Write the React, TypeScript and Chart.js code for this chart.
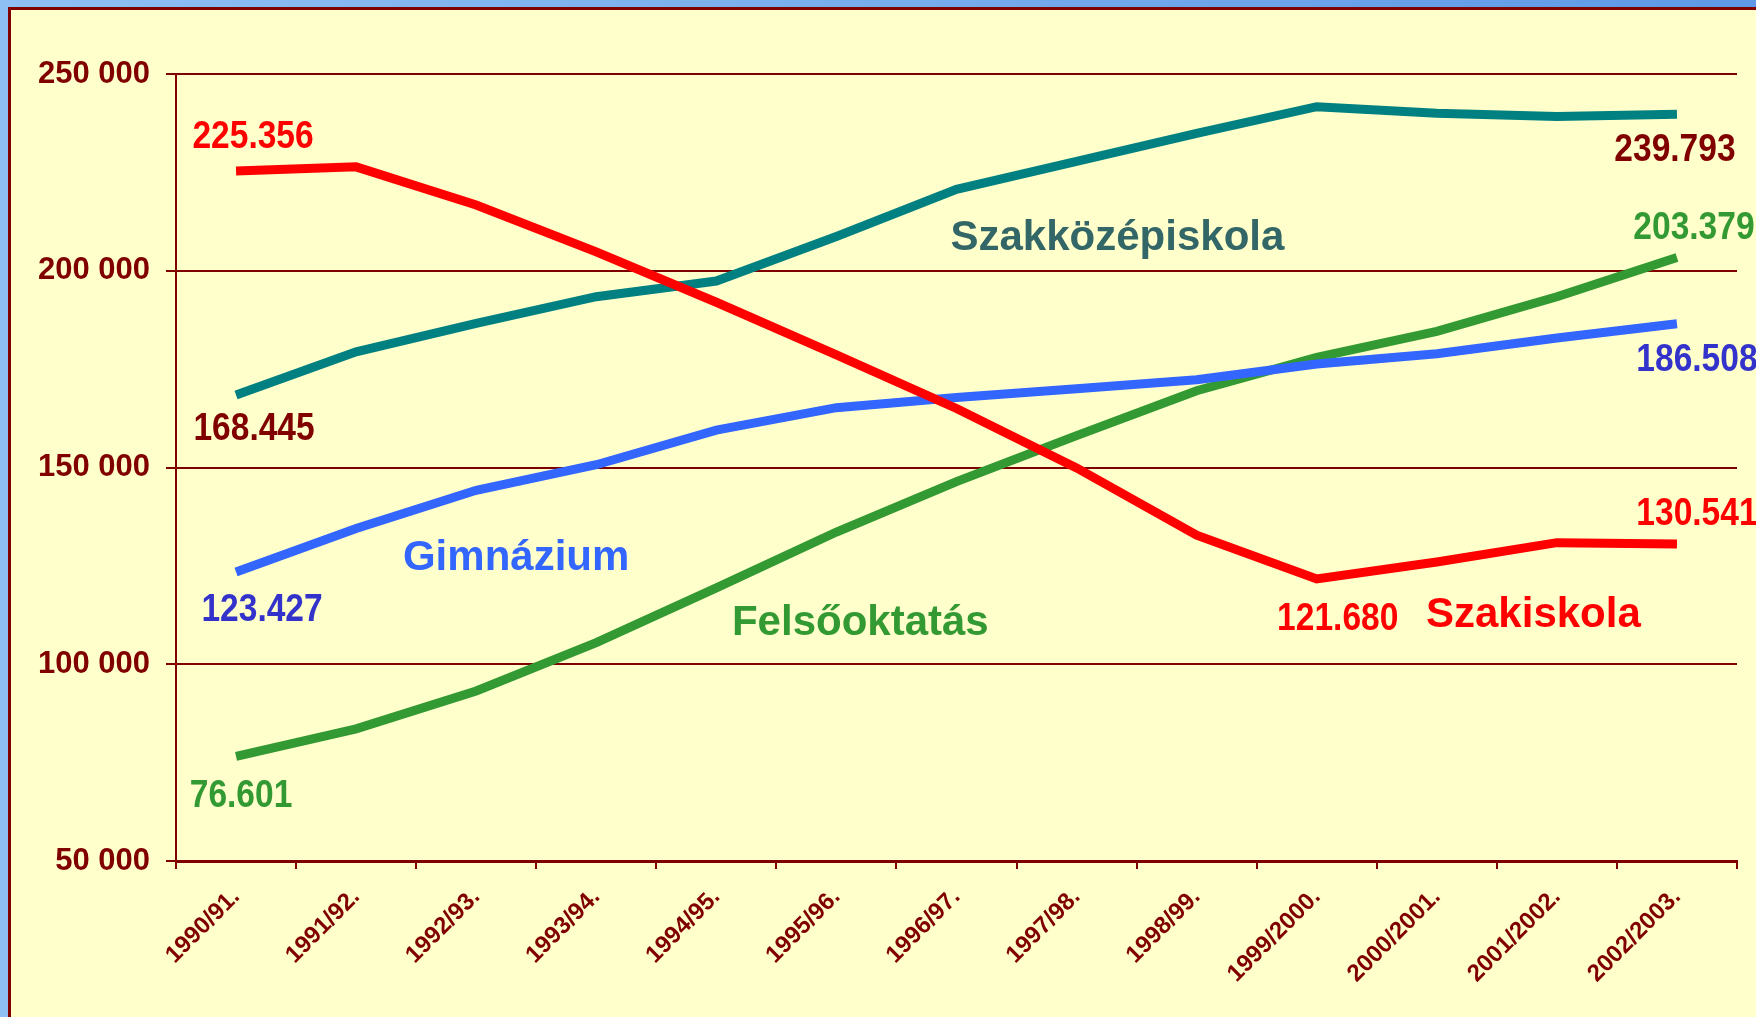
import React, { useEffect, useRef } from "react";
import { Chart, registerables } from "chart.js";

Chart.register(...registerables);

const categories = [
  "1990/91.", "1991/92.", "1992/93.", "1993/94.", "1994/95.", "1995/96.", "1996/97.",
  "1997/98.", "1998/99.", "1999/2000.", "2000/2001.", "2001/2002.", "2002/2003.",
];
const szakiskola = [225356, 226400, 216700, 204800, 192000, 178600, 165000, 149900, 132800, 121680, 126000, 130900, 130541];
const szakkozepiskola = [168445, 179400, 186600, 193400, 197400, 208700, 220700, 227800, 234900, 241700, 240000, 239200, 239793];
const gimnazium = [123427, 134500, 144200, 150700, 159500, 165200, 167800, 170000, 172300, 176300, 178900, 182900, 186508];
const felsooktatas = [76601, 83600, 93200, 105500, 119400, 133600, 146400, 158100, 169500, 178000, 184600, 193400, 203379];
const yTicks = [50000, 100000, 150000, 200000, 250000];

const seriesNames = ["Szakiskola", "Szakközépiskola", "Gimnázium", "Felsőoktatás"];
const seriesColors = ["#FF0000", "#008080", "#3366FF", "#339933"];

// value labels: [datasetIndex, pointIndex, color, dx, dy]
const valueLabels: [number, number, string, number, number][] = [
  [0, 0, "#FF0000", 17, -37],
  [0, 9, "#FF0000", 21, 37],
  [0, 12, "#FF0000", 20, -33],
  [1, 0, "#800000", 18, 31],
  [1, 12, "#800000", -2, 33],
  [2, 0, "#3333CC", 26, 35],
  [2, 12, "#3333CC", 20, 33],
  [3, 0, "#339933", 5, 37],
  [3, 12, "#339933", 17, -32],
];

// series name annotations: [text, color, category position, value at baseline]
const nameLabels: [string, string, number, number][] = [
  ["Szakközépiskola", "#336666", 5.95, 205273],
  ["Gimnázium", "#3366FF", 1.39, 123951],
  ["Felsőoktatás", "#339933", 4.13, 107433],
  ["Szakiskola", "#FF0000", 9.91, 109466],
];

const fmtDot = (v: number) => String(Math.round(v)).replace(/\B(?=(\d{3})+(?!\d))/g, ".");
const fmtSpace = (v: number) => String(Math.round(v)).replace(/\B(?=(\d{3})+(?!\d))/g, " ");

const labelPlugin = {
  id: "annotLabels",
  afterDatasetsDraw(chart: any) {
    const ctx = chart.ctx as CanvasRenderingContext2D;
    const datasets = chart.data.datasets;
    const numSize = 39;
    ctx.save();
    ctx.textAlign = "center";
    ctx.textBaseline = "alphabetic";
    ctx.font = `bold ${numSize}px "Liberation Sans", Arial, sans-serif`;
    for (const [di, pi, color, dx, dy] of valueLabels) {
      const pt = chart.getDatasetMeta(di).data[pi];
      const val = datasets[di].data[pi] as number;
      ctx.save();
      ctx.fillStyle = color;
      ctx.translate(pt.x + dx, pt.y + dy + 0.358 * numSize);
      ctx.scale(0.86, 1);
      ctx.fillText(fmtDot(val), 0, 0);
      ctx.restore();
    }
    const xs = chart.scales.x;
    const ys = chart.scales.y;
    ctx.textAlign = "left";
    ctx.font = `bold 42px "Liberation Sans", Arial, sans-serif`;
    for (const [text, color, cx, vy] of nameLabels) {
      ctx.fillStyle = color;
      ctx.fillText(text, xs.getPixelForValue(cx), ys.getPixelForValue(vy));
    }
    ctx.restore();
  },
};

export default function App() {
  const ref = useRef<HTMLCanvasElement | null>(null);
  useEffect(() => {
    if (!ref.current) return;
    const series = [szakiskola, szakkozepiskola, gimnazium, felsooktatas];
    const chart = new Chart(ref.current, {
      type: "line",
      data: {
        labels: categories,
        datasets: series.map((d, i) => ({
          label: seriesNames[i],
          data: d,
          borderColor: seriesColors[i],
          backgroundColor: seriesColors[i],
          borderWidth: 9,
          pointRadius: 0,
          tension: 0,
          fill: false,
        })),
      },
      options: {
        responsive: false,
        animation: false,
        devicePixelRatio: 1,
        layout: { padding: { top: 74, right: 19, left: 0, bottom: 0 } },
        plugins: { legend: { display: false }, tooltip: { enabled: false } },
        scales: {
          x: {
            type: "category",
            offset: true,
            grid: { offset: true, drawOnChartArea: false, drawTicks: true, tickLength: 8, color: "#800000", lineWidth: 2 },
            border: { color: "#800000", width: 3 },
            ticks: {
              color: "#800000",
              font: { family: '"Liberation Sans", Arial, sans-serif', weight: "bold", size: 24 },
              maxRotation: 45,
              minRotation: 45,
              autoSkip: false,
              padding: 14,
            },
            afterFit: (s: any) => { s.height = 156; },
          },
          y: {
            min: 50000,
            max: 250000,
            afterBuildTicks: (s: any) => { s.ticks = yTicks.map((v) => ({ value: v })); },
            grid: { color: "#800000", lineWidth: 2, tickLength: 10, drawTicks: true },
            border: { color: "#800000", width: 2 },
            ticks: {
              color: "#800000",
              font: { family: '"Liberation Sans", Arial, sans-serif', weight: "bold", size: 31 },
              padding: 16,
              callback: (v: any) => fmtSpace(Number(v)),
            },
            afterFit: (s: any) => { s.width = 176; },
          },
        },
      } as any,
      plugins: [labelPlugin],
    });
    return () => chart.destroy();
  }, []);

  return (
    <div style={{ position: "fixed", left: 0, top: 0, width: 1756, height: 1017, overflow: "hidden", background: "linear-gradient(90deg, #8EC0F4 0%, #7DB1EE 40%, #5E98E6 100%)" }}>
      <div style={{ position: "absolute", left: 8, top: 7, right: 0, bottom: 0, background: "#FFFFCC", borderTop: "3px solid #800000", borderLeft: "3px solid #800000" }} />
      <canvas ref={ref} width={1756} height={1017} style={{ position: "absolute", left: 0, top: 0, width: 1756, height: 1017, display: "block" }} />
    </div>
  );
}
